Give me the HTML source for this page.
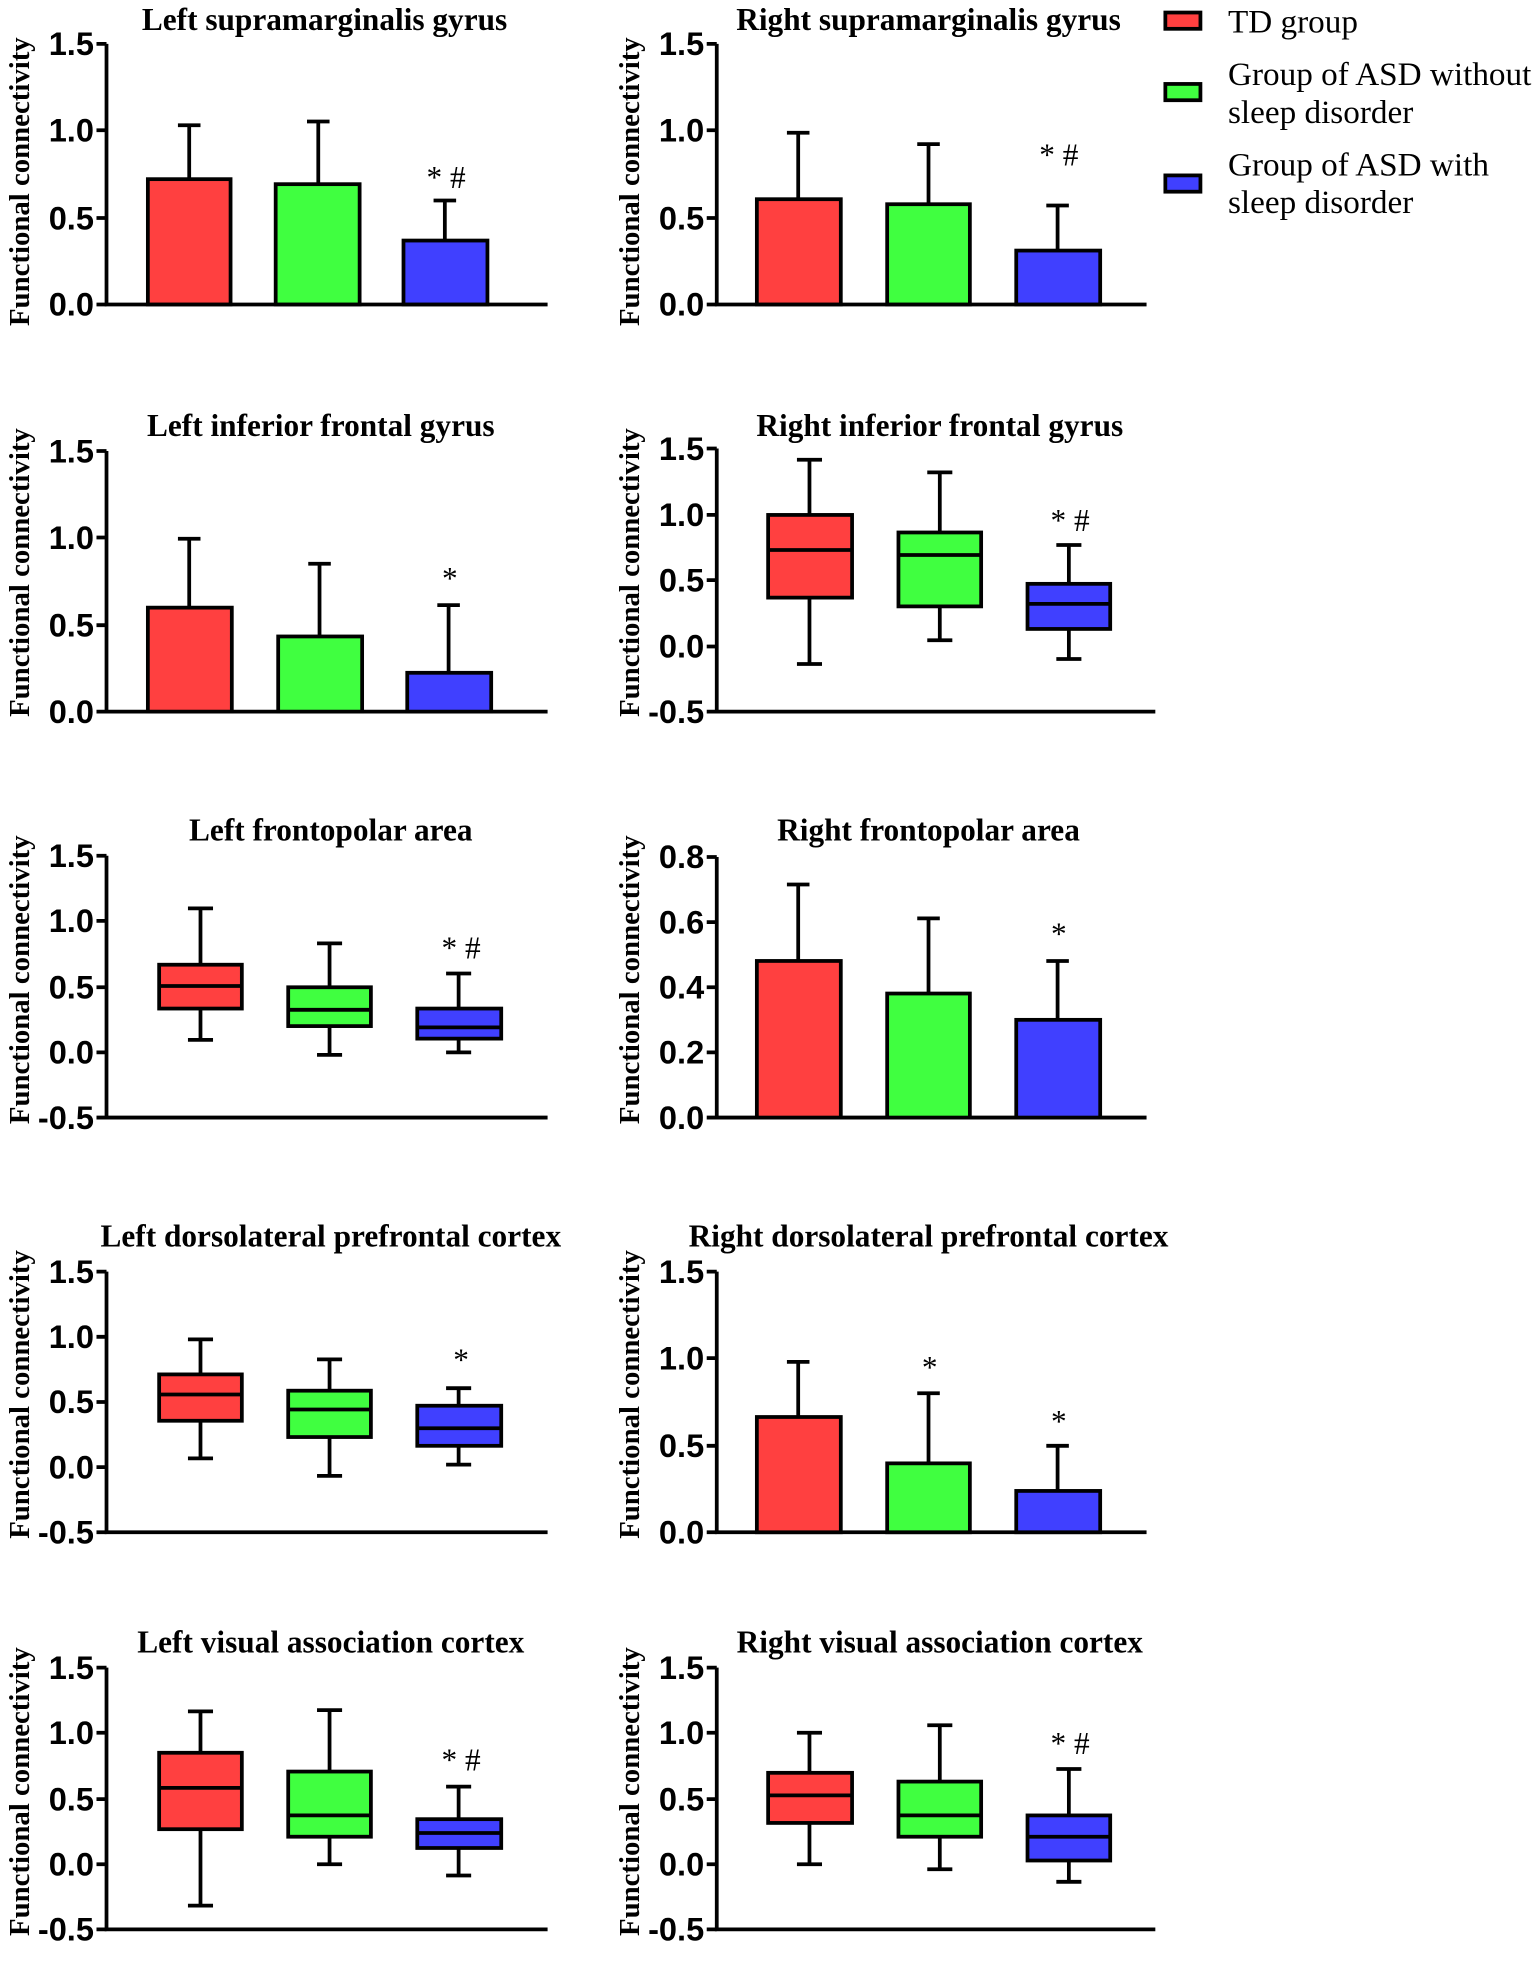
<!DOCTYPE html>
<html><head><meta charset="utf-8"><style>
html,body{margin:0;padding:0;background:#fff;}
svg{display:block;}
.t{font-family:"Liberation Serif",serif;font-weight:bold;font-size:25px;text-anchor:middle;}
.tk{font-family:"Liberation Sans",sans-serif;font-weight:bold;font-size:26px;text-anchor:end;}
.yl{font-family:"Liberation Serif",serif;font-weight:bold;font-size:23px;text-anchor:middle;}
.s{font-family:"Liberation Serif",serif;font-size:25px;text-anchor:middle;}
.lg{font-family:"Liberation Serif",serif;font-size:26.5px;}
line,rect,path{stroke:#000;stroke-width:3;}
.r{fill:#ff4040}.g{fill:#40ff40}.b{fill:#4040ff}
</style></head><body>
<svg width="1535" height="1962" viewBox="0 0 1225 1566" preserveAspectRatio="none" xmlns="http://www.w3.org/2000/svg">
<rect x="930" y="10" width="28" height="13" class="r"/><text class="lg" x="980" y="26">TD group</text>
<rect x="930" y="67" width="28" height="13" class="g"/><text class="lg" x="980" y="68">Group of ASD without</text><text class="lg" x="980" y="98">sleep disorder</text>
<rect x="930" y="140" width="28" height="13" class="b"/><text class="lg" x="980" y="140">Group of ASD with</text><text class="lg" x="980" y="170">sleep disorder</text>

<text class="t" x="259" y="24">Left supramarginalis gyrus</text>
<text class="yl" transform="translate(23,145) rotate(-90)">Functional connectivity</text>
<path d="M85 35V243H437" fill="none"/>
<path d="M77 35H85M77 104H85M77 174H85M77 243H85" fill="none"/>
<text class="tk" x="75" y="44">1.5</text><text class="tk" x="75" y="113">1.0</text><text class="tk" x="75" y="183">0.5</text><text class="tk" x="75" y="252">0.0</text>
<path d="M151 143V100M142 100H160M254 147V97M245 97H263M355 192V160M346 160H364" fill="none"/>
<rect x="118" y="143" width="66" height="100" class="r"/><rect x="220" y="147" width="67" height="96" class="g"/><rect x="322" y="192" width="67" height="51" class="b"/>
<text class="s" x="356" y="150">* #</text>

<text class="t" x="741" y="24">Right supramarginalis gyrus</text>
<text class="yl" transform="translate(510,145) rotate(-90)">Functional connectivity</text>
<path d="M572 35V243H915" fill="none"/>
<path d="M564 35H572M564 104H572M564 174H572M564 243H572" fill="none"/>
<text class="tk" x="562" y="44">1.5</text><text class="tk" x="562" y="113">1.0</text><text class="tk" x="562" y="183">0.5</text><text class="tk" x="562" y="252">0.0</text>
<path d="M637 159V106M628 106H646M741 163V115M732 115H750M844 200V164M835 164H853" fill="none"/>
<rect x="604" y="159" width="67" height="84" class="r"/><rect x="708" y="163" width="66" height="80" class="g"/><rect x="811" y="200" width="67" height="43" class="b"/>
<text class="s" x="845" y="132">* #</text>

<text class="t" x="256" y="348">Left inferior frontal gyrus</text>
<text class="yl" transform="translate(23,457) rotate(-90)">Functional connectivity</text>
<path d="M85 360V568H437" fill="none"/>
<path d="M77 360H85M77 429H85M77 499H85M77 568H85" fill="none"/>
<text class="tk" x="75" y="369">1.5</text><text class="tk" x="75" y="438">1.0</text><text class="tk" x="75" y="508">0.5</text><text class="tk" x="75" y="577">0.0</text>
<path d="M151 485V430M142 430H160M255 508V450M246 450H264M358 537V483M349 483H367" fill="none"/>
<rect x="118" y="485" width="67" height="83" class="r"/><rect x="222" y="508" width="67" height="60" class="g"/><rect x="325" y="537" width="67" height="31" class="b"/>
<text class="s" x="359" y="470">*</text>

<text class="t" x="750" y="348">Right inferior frontal gyrus</text>
<text class="yl" transform="translate(510,457) rotate(-90)">Functional connectivity</text>
<path d="M572 358V568H922" fill="none"/>
<path d="M564 358H572M564 411H572M564 463H572M564 516H572M564 568H572" fill="none"/>
<text class="tk" x="562" y="367">1.5</text><text class="tk" x="562" y="420">1.0</text><text class="tk" x="562" y="472">0.5</text><text class="tk" x="562" y="525">0.0</text><text class="tk" x="562" y="577">-0.5</text>
<path d="M646 367V530M636 367H656M636 530H656M750 377V511M740 377H760M740 511H760M853 435V526M843 435H863M843 526H863" fill="none"/>
<rect x="613" y="411" width="67" height="66" class="r"/><line x1="613" y1="439" x2="680" y2="439"/>
<rect x="717" y="425" width="66" height="59" class="g"/><line x1="717" y1="443" x2="783" y2="443"/>
<rect x="820" y="466" width="66" height="36" class="b"/><line x1="820" y1="482" x2="886" y2="482"/>
<text class="s" x="854" y="424">* #</text>

<text class="t" x="264" y="671">Left frontopolar area</text>
<text class="yl" transform="translate(23,782) rotate(-90)">Functional connectivity</text>
<path d="M85 683V892H437" fill="none"/>
<path d="M77 683H85M77 735H85M77 788H85M77 840H85M77 892H85" fill="none"/>
<text class="tk" x="75" y="692">1.5</text><text class="tk" x="75" y="744">1.0</text><text class="tk" x="75" y="797">0.5</text><text class="tk" x="75" y="849">0.0</text><text class="tk" x="75" y="901">-0.5</text>
<path d="M160 725V830M150 725H170M150 830H170M263 753V842M253 753H273M253 842H273M366 777V840M356 777H376M356 840H376" fill="none"/>
<rect x="127" y="770" width="66" height="35" class="r"/><line x1="127" y1="787" x2="193" y2="787"/>
<rect x="230" y="788" width="66" height="31" class="g"/><line x1="230" y1="806" x2="296" y2="806"/>
<rect x="333" y="805" width="67" height="24" class="b"/><line x1="333" y1="820" x2="400" y2="820"/>
<text class="s" x="368" y="765">* #</text>

<text class="t" x="741" y="671">Right frontopolar area</text>
<text class="yl" transform="translate(510,782) rotate(-90)">Functional connectivity</text>
<path d="M572 684V892H915" fill="none"/>
<path d="M564 684H572M564 736H572M564 788H572M564 840H572M564 892H572" fill="none"/>
<text class="tk" x="562" y="693">0.8</text><text class="tk" x="562" y="745">0.6</text><text class="tk" x="562" y="797">0.4</text><text class="tk" x="562" y="849">0.2</text><text class="tk" x="562" y="901">0.0</text>
<path d="M637 767V706M628 706H646M741 793V733M732 733H750M844 814V767M835 767H853" fill="none"/>
<rect x="604" y="767" width="67" height="125" class="r"/><rect x="708" y="793" width="66" height="99" class="g"/><rect x="811" y="814" width="67" height="78" class="b"/>
<text class="s" x="845" y="754">*</text>

<text class="t" x="264" y="995">Left dorsolateral prefrontal cortex</text>
<text class="yl" transform="translate(23,1113) rotate(-90)">Functional connectivity</text>
<path d="M85 1015V1223H437" fill="none"/>
<path d="M77 1015H85M77 1067H85M77 1119H85M77 1171H85M77 1223H85" fill="none"/>
<text class="tk" x="75" y="1024">1.5</text><text class="tk" x="75" y="1076">1.0</text><text class="tk" x="75" y="1128">0.5</text><text class="tk" x="75" y="1180">0.0</text><text class="tk" x="75" y="1232">-0.5</text>
<path d="M160 1069V1164M150 1069H170M150 1164H170M263 1085V1178M253 1085H273M253 1178H273M366 1108V1169M356 1108H376M356 1169H376" fill="none"/>
<rect x="127" y="1097" width="66" height="37" class="r"/><line x1="127" y1="1113" x2="193" y2="1113"/>
<rect x="230" y="1110" width="66" height="37" class="g"/><line x1="230" y1="1125" x2="296" y2="1125"/>
<rect x="333" y="1122" width="67" height="32" class="b"/><line x1="333" y1="1140" x2="400" y2="1140"/>
<text class="s" x="368" y="1094">*</text>

<text class="t" x="741" y="995">Right dorsolateral prefrontal cortex</text>
<text class="yl" transform="translate(510,1113) rotate(-90)">Functional connectivity</text>
<path d="M572 1015V1223H915" fill="none"/>
<path d="M564 1015H572M564 1084H572M564 1154H572M564 1223H572" fill="none"/>
<text class="tk" x="562" y="1024">1.5</text><text class="tk" x="562" y="1093">1.0</text><text class="tk" x="562" y="1163">0.5</text><text class="tk" x="562" y="1232">0.0</text>
<path d="M637 1131V1087M628 1087H646M741 1168V1112M732 1112H750M844 1190V1154M835 1154H853" fill="none"/>
<rect x="604" y="1131" width="67" height="92" class="r"/><rect x="708" y="1168" width="66" height="55" class="g"/><rect x="811" y="1190" width="67" height="33" class="b"/>
<text class="s" x="742" y="1100">*</text><text class="s" x="845" y="1143">*</text>

<text class="t" x="264" y="1319">Left visual association cortex</text>
<text class="yl" transform="translate(23,1430) rotate(-90)">Functional connectivity</text>
<path d="M85 1331V1540H437" fill="none"/>
<path d="M77 1331H85M77 1383H85M77 1436H85M77 1488H85M77 1540H85" fill="none"/>
<text class="tk" x="75" y="1340">1.5</text><text class="tk" x="75" y="1392">1.0</text><text class="tk" x="75" y="1445">0.5</text><text class="tk" x="75" y="1497">0.0</text><text class="tk" x="75" y="1549">-0.5</text>
<path d="M160 1366V1521M150 1366H170M150 1521H170M263 1365V1488M253 1365H273M253 1488H273M366 1426V1497M356 1426H376M356 1497H376" fill="none"/>
<rect x="127" y="1399" width="66" height="61" class="r"/><line x1="127" y1="1427" x2="193" y2="1427"/>
<rect x="230" y="1414" width="66" height="52" class="g"/><line x1="230" y1="1449" x2="296" y2="1449"/>
<rect x="333" y="1452" width="67" height="23" class="b"/><line x1="333" y1="1463" x2="400" y2="1463"/>
<text class="s" x="368" y="1413">* #</text>

<text class="t" x="750" y="1319">Right visual association cortex</text>
<text class="yl" transform="translate(510,1430) rotate(-90)">Functional connectivity</text>
<path d="M572 1331V1540H922" fill="none"/>
<path d="M564 1331H572M564 1383H572M564 1436H572M564 1488H572M564 1540H572" fill="none"/>
<text class="tk" x="562" y="1340">1.5</text><text class="tk" x="562" y="1392">1.0</text><text class="tk" x="562" y="1445">0.5</text><text class="tk" x="562" y="1497">0.0</text><text class="tk" x="562" y="1549">-0.5</text>
<path d="M646 1383V1488M636 1383H656M636 1488H656M750 1377V1492M740 1377H760M740 1492H760M853 1412V1502M843 1412H863M843 1502H863" fill="none"/>
<rect x="613" y="1415" width="67" height="40" class="r"/><line x1="613" y1="1433" x2="680" y2="1433"/>
<rect x="717" y="1422" width="66" height="44" class="g"/><line x1="717" y1="1449" x2="783" y2="1449"/>
<rect x="820" y="1449" width="66" height="36" class="b"/><line x1="820" y1="1466" x2="886" y2="1466"/>
<text class="s" x="854" y="1400">* #</text>
</svg>
</body></html>
